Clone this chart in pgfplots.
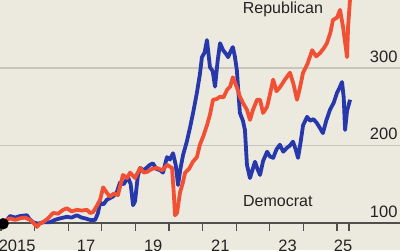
\documentclass[border=0pt]{standalone}
\usepackage{pgfplots}
\pgfplotsset{compat=1.18}
\usepackage{fontspec}
\setmainfont{Liberation Sans}
\definecolor{bgc}{RGB}{236,233,222}
\definecolor{gridc}{RGB}{200,197,186}
\definecolor{demblue}{RGB}{38,56,172}
\definecolor{repred}{RGB}{242,80,52}
\definecolor{txt}{RGB}{35,35,35}
\begin{document}
\begin{tikzpicture}
\path[use as bounding box] (0,0) rectangle (400pt,250pt);
\begin{scope}
\clip (0,0) rectangle (400pt,250pt);
\fill[bgc] (0,0) rectangle (400pt,250pt);
\begin{axis}[
  at={(0,0)}, anchor=south west,
  scale only axis, width=400pt, height=250pt,
  xmin=2014.9702, xmax=2026.875,
  ymin=65.16, ymax=387.74,
  axis line style={draw=none},
  xtick=\empty, ytick=\empty,
  clip=false,
  line join=round,
]
% gridlines
\draw[gridc, line width=1.2pt] (axis cs:2014.9702,200) -- (axis cs:2026.9,200);
\draw[gridc, line width=1.2pt] (axis cs:2014.9702,300) -- (axis cs:2026.9,300);
% x axis line
\draw[txt!80, line width=1.4pt] (axis cs:2014.9702,100) -- (axis cs:2026.9,100);
\pgfplotsinvokeforeach{2015,2016,2017,2018,2019,2020,2021,2022,2023,2024,2025,2025.36}{
  \draw[txt!80, line width=1.2pt] (axis cs:#1,100) -- ++(0pt,-8pt);
}
% Democrat
\addplot[demblue, line width=3.8pt, mark=none] coordinates {
(2015.06,101) (2015.18,104) (2015.27,109) (2015.42,107) (2015.57,109) (2015.77,110)
(2015.85,105) (2015.95,101) (2016.10,99) (2016.25,101) (2016.46,101) (2016.60,104)
(2016.76,106) (2016.96,108) (2017.10,107) (2017.26,110) (2017.40,107) (2017.50,106)
(2017.65,104) (2017.80,104) (2017.88,112) (2017.95,126) (2018.05,124) (2018.15,130)
(2018.33,134) (2018.45,140) (2018.54,152) (2018.65,150) (2018.78,159) (2018.86,150)
(2018.93,123) (2018.99,128) (2019.07,160) (2019.14,171) (2019.25,168) (2019.43,175)
(2019.52,177) (2019.62,170) (2019.74,168) (2019.82,165) (2019.94,185) (2020.03,182)
(2020.12,190) (2020.20,175) (2020.27,149) (2020.34,170) (2020.42,188) (2020.53,205)
(2020.63,224) (2020.73,245) (2020.83,268) (2020.92,292) (2020.98,314) (2021.06,320)
(2021.13,336) (2021.22,301) (2021.30,296) (2021.37,276) (2021.45,310) (2021.52,332)
(2021.61,323) (2021.70,318) (2021.76,314) (2021.84,322) (2021.90,327) (2021.96,315)
(2022.02,297) (2022.11,242) (2022.20,232) (2022.26,220) (2022.32,175) (2022.41,158)
(2022.48,168) (2022.56,179) (2022.63,170) (2022.71,162) (2022.80,180) (2022.92,192)
(2023.00,186) (2023.10,184) (2023.20,195) (2023.30,201) (2023.40,192) (2023.51,197)
(2023.60,200) (2023.69,205) (2023.77,195) (2023.84,184) (2023.92,205) (2023.99,226)
(2024.11,237) (2024.20,232) (2024.30,234) (2024.40,229) (2024.50,222) (2024.58,216)
(2024.68,232) (2024.79,246) (2024.90,255) (2025.00,268) (2025.08,275) (2025.15,282)
(2025.20,262) (2025.24,220) (2025.30,245) (2025.39,259)
};
% Republican
\addplot[repred, line width=3.8pt, mark=none] coordinates {
(2015.06,101) (2015.18,104) (2015.27,106) (2015.42,104) (2015.57,106) (2015.72,107)
(2015.86,104) (2015.97,100) (2016.07,95) (2016.15,99) (2016.25,101) (2016.40,106)
(2016.55,113) (2016.70,112) (2016.85,117) (2016.96,119) (2017.10,115) (2017.26,117)
(2017.40,116) (2017.56,117) (2017.65,113) (2017.74,114) (2017.85,122) (2017.95,130)
(2018.04,146) (2018.15,139) (2018.24,134) (2018.36,138) (2018.48,136) (2018.56,150)
(2018.63,162) (2018.75,158) (2018.84,165) (2018.99,158) (2019.07,165) (2019.14,171)
(2019.25,165) (2019.35,166) (2019.50,170) (2019.64,171) (2019.80,168) (2019.94,175)
(2020.09,171) (2020.14,140) (2020.18,110) (2020.24,113) (2020.33,140) (2020.40,150)
(2020.48,165) (2020.60,170) (2020.71,179) (2020.83,185) (2020.92,201) (2021.02,212)
(2021.13,226) (2021.22,240) (2021.31,259) (2021.42,260) (2021.52,263) (2021.62,262)
(2021.73,272) (2021.82,276) (2021.90,288) (2021.96,282) (2022.02,275) (2022.11,263)
(2022.20,255) (2022.32,246) (2022.41,233) (2022.50,246) (2022.62,259) (2022.71,259)
(2022.80,242) (2022.92,250) (2023.00,265) (2023.10,285) (2023.20,270) (2023.30,275)
(2023.45,285) (2023.60,294) (2023.70,280) (2023.81,259) (2023.90,275) (2023.99,294)
(2024.12,305) (2024.26,323) (2024.38,315) (2024.49,319) (2024.60,325) (2024.70,332)
(2024.80,345) (2024.88,362) (2025.00,365) (2025.09,375) (2025.18,353) (2025.25,330)
(2025.30,314) (2025.33,353) (2025.39,390)
};
% start dot
\addplot[black, only marks, mark=*, mark size=5.5pt] coordinates {(2015.06,99)};
% labels
\node[txt, font=\fontsize{16}{18}\selectfont] at (axis cs:2023.39,376.1) {Republican};
\node[txt, font=\fontsize{16}{18}\selectfont] at (axis cs:2023.24,128.4) {Democrat};
\node[txt, anchor=base east, font=\fontsize{16.5}{18}\selectfont] at (axis cs:2026.905,306.5) {300};
\node[txt, anchor=base east, font=\fontsize{16.5}{18}\selectfont] at (axis cs:2026.905,207.1) {200};
\node[txt, anchor=base east, font=\fontsize{16.5}{18}\selectfont] at (axis cs:2026.905,106.5) {100};
\node[txt, anchor=base, font=\fontsize{16.5}{18}\selectfont] at (axis cs:2015.48,63.5) {2015};
\node[txt, anchor=base, font=\fontsize{16.5}{18}\selectfont] at (axis cs:2017.53,63.5) {17};
\node[txt, anchor=base, font=\fontsize{16.5}{18}\selectfont] at (axis cs:2019.53,63.5) {19};
\node[txt, anchor=base, font=\fontsize{16.5}{18}\selectfont] at (axis cs:2021.53,63.5) {21};
\node[txt, anchor=base, font=\fontsize{16.5}{18}\selectfont] at (axis cs:2023.53,63.5) {23};
\node[txt, anchor=base, font=\fontsize{16.5}{18}\selectfont] at (axis cs:2025.18,63.5) {25};
\end{axis}
\end{scope}
\end{tikzpicture}
\end{document}
